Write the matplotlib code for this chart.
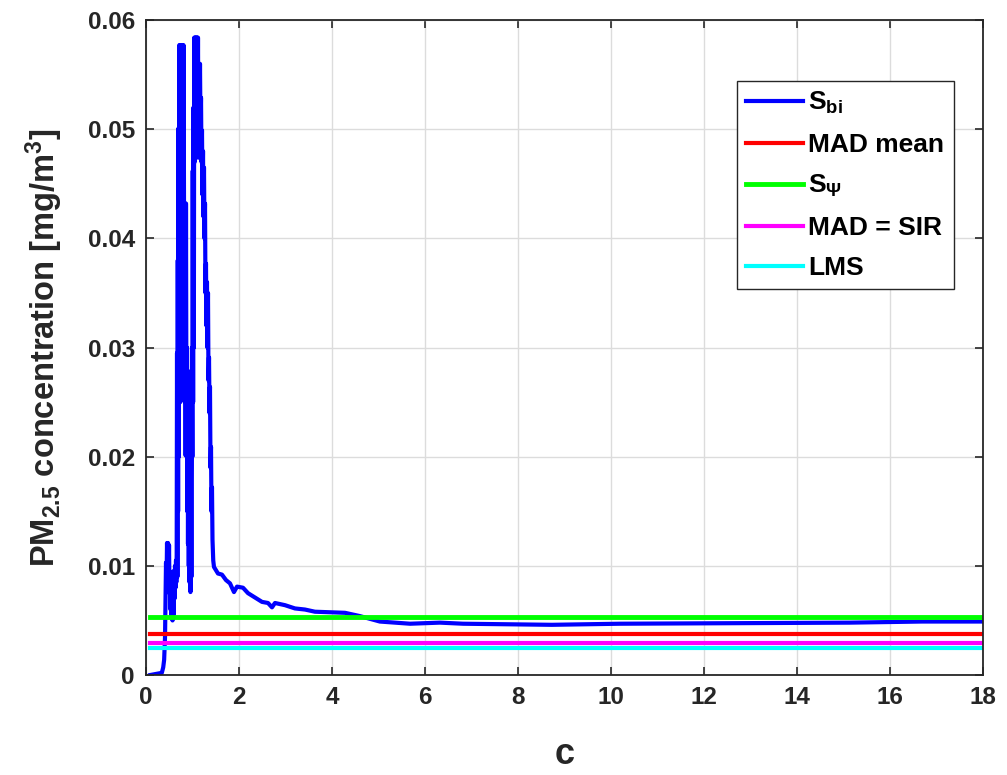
import numpy as np
import matplotlib
matplotlib.use("Agg")
import matplotlib.pyplot as plt

plt.rcParams['font.family'] = ['Liberation Sans', 'DejaVu Sans']
plt.rcParams['font.weight'] = 'bold'
plt.rcParams['mathtext.fontset'] = 'custom'
plt.rcParams['mathtext.rm'] = 'Liberation Sans:bold'
plt.rcParams['mathtext.bf'] = 'Liberation Sans:bold'
plt.rcParams['mathtext.it'] = 'Liberation Sans:bold:italic'
plt.rcParams['mathtext.default'] = 'bf'

# S_bi curve (the spikes oscillate fast, so they look filled)
c_bi = [0.09, 0.34, 0.37, 0.39,
        0.400, 0.409, 0.419, 0.430, 0.440, 0.452, 0.462, 0.473, 0.484, 0.495,
        0.505, 0.516, 0.527, 0.538, 0.548, 0.559, 0.570, 0.581, 0.591, 0.602,
        0.613, 0.624, 0.635, 0.645, 0.652, 0.660,
        0.667, 0.675, 0.683, 0.690, 0.699, 0.706, 0.713, 0.721, 0.729, 0.737,
        0.745, 0.753, 0.761, 0.769, 0.777, 0.785, 0.793, 0.801, 0.809, 0.817,
        0.828, 0.836, 0.844, 0.852, 0.860, 0.871, 0.880, 0.888, 0.896, 0.903,
        0.912, 0.920, 0.928, 0.936, 0.946, 0.956, 0.968, 0.976, 0.989, 0.997,
        1.005, 1.013, 1.021, 1.029, 1.037, 1.045, 1.053, 1.061, 1.069, 1.077,
        1.085, 1.093, 1.101, 1.109, 1.118, 1.129, 1.140, 1.151, 1.161, 1.172,
        1.183, 1.193, 1.204, 1.215, 1.226, 1.236, 1.247, 1.258, 1.269, 1.279,
        1.290, 1.300, 1.311, 1.322, 1.333, 1.344, 1.355, 1.366, 1.376, 1.387,
        1.398, 1.408, 1.419, 1.430, 1.446, 1.462,
        1.548, 1.634, 1.72, 1.806, 1.892, 1.957, 2.086,
        2.194, 2.344, 2.495, 2.624, 2.71, 2.774, 2.989, 3.204, 3.419, 3.634,
        4.28, 4.6, 5.03, 5.68, 6.32, 6.82, 8.73, 10.19, 15.14, 16.69, 18.0]
s_bi = [0.0, 0.0002, 0.0007, 0.0014,
        0.0025, 0.0035, 0.0069, 0.0103, 0.0080, 0.0121, 0.0090, 0.0121, 0.0085, 0.0119,
        0.0075, 0.0087, 0.0060, 0.0078, 0.0052, 0.0085, 0.0050, 0.0095, 0.0055, 0.0090,
        0.0070, 0.0100, 0.0080, 0.0105, 0.0085, 0.0110,
        0.0295, 0.0090, 0.0380, 0.0150, 0.0501, 0.0200, 0.0577, 0.0300, 0.0577, 0.0250,
        0.0577, 0.0350, 0.0577, 0.0300, 0.0577, 0.0400, 0.0577, 0.0350, 0.0577, 0.0432,
        0.0432, 0.0250, 0.0432, 0.0201, 0.0432, 0.0201, 0.0300, 0.0150, 0.0279, 0.0120,
        0.0252, 0.0100, 0.0252, 0.0085, 0.0201, 0.0076, 0.0201, 0.0090, 0.0300, 0.0200,
        0.0462, 0.0250, 0.0520, 0.0300, 0.0584, 0.0470, 0.0584, 0.0480, 0.0584, 0.0474,
        0.0584, 0.0480, 0.0584, 0.0500, 0.0584, 0.0474, 0.0560, 0.0511, 0.0560, 0.0500,
        0.0529, 0.0470, 0.0499, 0.0440, 0.0480, 0.0420, 0.0465, 0.0400, 0.0432, 0.0350,
        0.0377, 0.0320, 0.0360, 0.0300, 0.0350, 0.0270, 0.0291, 0.0240, 0.0264, 0.0190,
        0.0209, 0.0150, 0.0172, 0.0124, 0.0105, 0.0099,
        0.0093, 0.0092, 0.0087, 0.0084, 0.0076, 0.0081, 0.0080,
        0.0075, 0.0071, 0.0067, 0.0066, 0.0062, 0.0066, 0.0064, 0.0061, 0.0060, 0.0058,
        0.0057, 0.0054, 0.0049, 0.0047, 0.0048, 0.0047, 0.0046, 0.0047, 0.0048, 0.0049, 0.0049]

# constant estimators
c_range = [0.08, 18.0]
mad_mean = 0.0038
s_psi = 0.0053
mad_sir = 0.0029
lms = 0.00245

fig = plt.figure(figsize=(10.07, 7.75), dpi=100)
ax = fig.add_axes([0.145, 0.129, 0.831, 0.845])

ax.plot(c_bi, s_bi, color=(0, 0, 1), lw=3, label=r'S$_{bi}$')
ax.plot(c_range, [mad_mean, mad_mean], color=(1, 0, 0), lw=3, label='MAD mean')
ax.plot(c_range, [s_psi, s_psi], color=(0, 1, 0), lw=3.5, label=r'S$_{\Psi}$')
ax.plot(c_range, [mad_sir, mad_sir], color=(1, 0, 1), lw=3, label='MAD = SIR')
ax.plot(c_range, [lms, lms], color=(0, 1, 1), lw=3, label='LMS')

ax.set_xlim(0, 18)
ax.set_ylim(0, 0.06)
ax.set_xticks(np.arange(0, 19, 2))
ax.set_yticks(np.arange(0, 0.061, 0.01))
ax.set_yticklabels(['0', '0.01', '0.02', '0.03', '0.04', '0.05', '0.06'])
ax.grid(True, color='#dcdcdc', lw=1)
ax.set_axisbelow(True)
ax.tick_params(direction='in', length=6, width=1.2, colors='#262626',
               labelsize=17.5, top=True, right=True)
ax.tick_params(axis='y', pad=8)
ax.tick_params(axis='x', pad=8)
for s in ax.spines.values():
    s.set_color('#262626')
    s.set_linewidth(1.3)

ax.set_xlabel('c', fontsize=26, fontweight='bold', color='#262626', labelpad=20)
ax.set_ylabel(r'PM$_{2.5}$ concentration [mg/m$^3$]', fontsize=23.5,
              fontweight='bold', color='#262626', labelpad=16)

leg = ax.legend(loc='upper right', bbox_to_anchor=(0.965, 0.907), fontsize=19,
                handlelength=2.15, handletextpad=0.2, labelspacing=0.62,
                fancybox=False, framealpha=1, edgecolor='#262626',
                borderpad=0.35, borderaxespad=0)
leg.get_frame().set_linewidth(1.0)

fig.savefig('out.png', dpi=100)
